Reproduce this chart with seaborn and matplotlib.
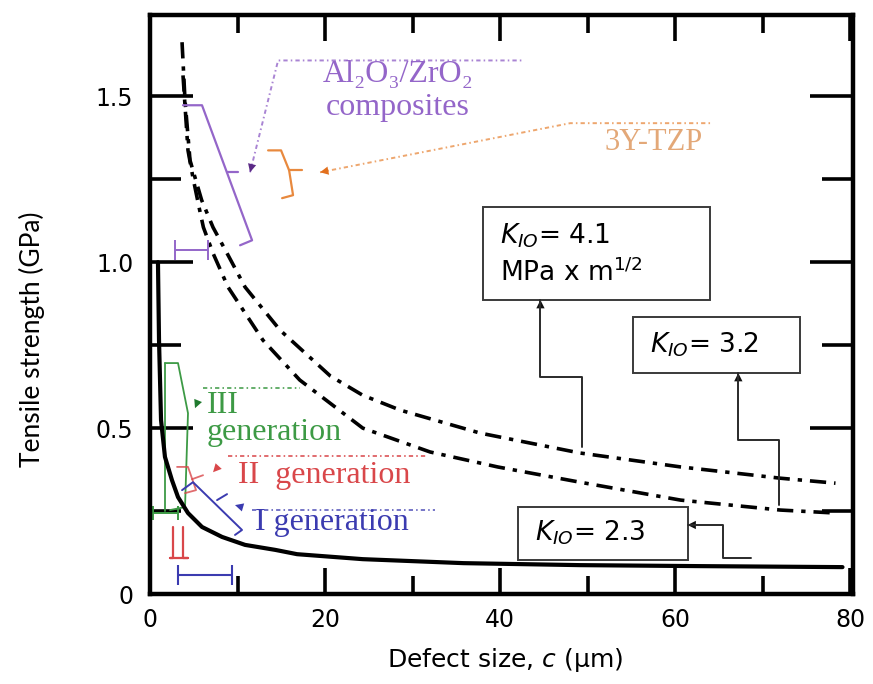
import numpy as np
import pandas as pd
import matplotlib
matplotlib.use('Agg')
import matplotlib.pyplot as plt
from matplotlib.patches import Rectangle
import seaborn as sns

# Strength curves: defect size c (um) vs tensile strength (GPa)
c_k23 = [0.91, 1.03, 1.26, 1.71, 2.51, 3.2, 4.34, 5.94, 8.23, 10.86, 14.3, 16.8,
         24.3, 35.8, 49.1, 62.9, 79.1]
s_k23 = [1.0, 0.765, 0.524, 0.413, 0.343, 0.292, 0.244, 0.202, 0.172, 0.148, 0.133,
         0.120, 0.105, 0.093, 0.087, 0.084, 0.081]

c_k32 = [3.77, 4.34, 4.9, 5.6, 6.1, 7.2, 8.91, 12.9, 17.1, 24.3, 32.0, 39.7,
         49.1, 60.6, 72.0, 78.3]
s_k32 = [1.563, 1.337, 1.256, 1.166, 1.105, 1.027, 0.925, 0.765, 0.645, 0.50,
         0.428, 0.383, 0.337, 0.283, 0.253, 0.244]

c_k41 = [3.66, 4.0, 4.57, 5.9, 7.2, 8.8, 10.86, 14.86, 20.6, 24.3, 28.6, 37.7,
         49.1, 60.6, 72.0, 78.3]
s_k41 = [1.663, 1.488, 1.307, 1.187, 1.105, 1.027, 0.925, 0.795, 0.657, 0.599,
         0.554, 0.485, 0.425, 0.383, 0.349, 0.334]

# axis ticks
x_major = [0, 20, 40, 60, 80]
x_labels = ['0', '20', '40', '60', '80']
x_minor = [10, 30, 50, 70]
y_major = [0, 0.5, 1.0, 1.5]
y_labels = ['0', '0.5', '1.0', '1.5']
y_minor = [0.25, 0.75, 1.25]

# material groups: bracket (strength range), leader line, arrow tip, error bar on c
pur_brk_x = [3.77, 5.94, 11.66, 10.29]
pur_brk_y = [1.473, 1.473, 1.066, 1.051]
pur_tick_x = [8.78, 10.1]
pur_tick_y = [1.271, 1.271]
pur_lead_x = [11.43, 14.63, 42.6]
pur_lead_y = [1.271, 1.608, 1.608]
pur_err = [4.75, 1.036, 1.89]

org_brk_x = [13.49, 14.97, 15.89, 16.34, 15.09]
org_brk_y = [1.337, 1.337, 1.277, 1.202, 1.193]
org_tick_x = [15.89, 17.37]
org_tick_y = [1.277, 1.277]
org_lead_x = [19.43, 48.0, 64.3]
org_lead_y = [1.271, 1.419, 1.419]

grn_brk_x = [1.71, 3.2, 4.34, 4.0, 2.29]
grn_brk_y = [0.696, 0.696, 0.545, 0.262, 0.253]
grn_side_x = [1.71, 1.71]
grn_side_y = [0.696, 0.250]
grn_lead_x = [6.06, 17.1]
grn_lead_y = [0.620, 0.620]
grn_tip = [5.14, 0.560]
grn_err = [1.77, 0.244, 1.43]

red_brk_x = [3.09, 4.34, 5.26, 4.0]
red_brk_y = [0.383, 0.383, 0.313, 0.304]
red_tick_x = [4.8, 6.06]
red_tick_y = [0.346, 0.358]
red_lead_x = [8.9, 31.7]
red_lead_y = [0.416, 0.416]
red_tip = [7.2, 0.367]
red_bar_x = [2.63, 2.63, 2.29, 4.34, 3.77, 3.77]
red_bar_y = [0.202, 0.108, 0.108, 0.108, 0.108, 0.202]

blu_brk_x = [3.66, 4.91, 10.51, 9.71]
blu_brk_y = [0.313, 0.337, 0.193, 0.178]
blu_tick_x = [7.66, 8.8]
blu_tick_y = [0.283, 0.301]
blu_lead_x = [11.66, 32.6]
blu_lead_y = [0.253, 0.253]
blu_tip = [9.71, 0.268]
blu_err = [6.29, 0.057, 3.09]

# K_IO boxes (x0, y0, x1, y1) and their connector paths
box41 = [38.06, 0.886, 64.0, 1.166]
box32 = [55.2, 0.666, 74.3, 0.834]
box23 = [42.06, 0.102, 61.4, 0.262]
path41_x = [49.4, 49.4, 44.6, 44.6]
path41_y = [0.443, 0.654, 0.654, 0.886]
path32_x = [71.8, 71.8, 67.2, 67.2]
path32_y = [0.268, 0.464, 0.464, 0.666]
path23_x = [68.6, 65.5, 65.5, 61.4]
path23_y = [0.108, 0.108, 0.208, 0.208]

sns.set_theme(style='ticks')
plt.rcParams['font.family'] = ['DejaVu Sans']
plt.rcParams['mathtext.fontset'] = 'custom'
plt.rcParams['mathtext.rm'] = 'DejaVu Sans'
plt.rcParams['mathtext.it'] = 'DejaVu Sans:italic'
plt.rcParams['text.color'] = 'black'
plt.rcParams['axes.labelcolor'] = 'black'
plt.rcParams['xtick.labelcolor'] = 'black'
plt.rcParams['ytick.labelcolor'] = 'black'

PURPLE = '#9466c9'
ORANGE = '#e8893e'
GREEN = '#3d9a45'
RED = '#d9474a'
BLUE = '#3b3bb0'
serif = ['Liberation Serif', 'DejaVu Serif']
dashdot = (0, (4.5, 2.2, 1.2, 2.2))
leader = (0, (2.2, 1.6, 0.8, 1.6))

fig = plt.figure(figsize=(8.73, 6.84), dpi=100)
ax = fig.add_axes([150 / 873, 90 / 684, 703 / 873, 579 / 684])

sns.lineplot(x=c_k23, y=s_k23, ax=ax, color='black', lw=3, sort=False, estimator=None, zorder=4)
sns.lineplot(x=c_k32, y=s_k32, ax=ax, color='black', lw=2.6, sort=False, estimator=None,
             linestyle=dashdot)
sns.lineplot(x=c_k41, y=s_k41, ax=ax, color='black', lw=2.6, sort=False, estimator=None,
             linestyle=dashdot)


def tip(xy, frm, color):
    ax.annotate('', xy=xy, xytext=frm,
                arrowprops=dict(arrowstyle='-|>', color=color, lw=0, shrinkA=0, shrinkB=0,
                                mutation_scale=15))


# Al2O3/ZrO2 composites
ax.plot(pur_brk_x, pur_brk_y, color=PURPLE, lw=1.6)
ax.plot(pur_tick_x, pur_tick_y, color=PURPLE, lw=1.6)
ax.plot(pur_lead_x, pur_lead_y, color=PURPLE, lw=1.4, linestyle=leader, alpha=0.8)
tip((pur_lead_x[0], pur_lead_y[0]), (pur_lead_x[1], pur_lead_y[1]), '#5b2a86')
ax.errorbar(pur_err[0], pur_err[1], xerr=pur_err[2], color=PURPLE, lw=1.4, capsize=7, capthick=1.4)
ax.text(28.3, 1.566, 'Al\u2082O\u2083/ZrO\u2082', family=serif, fontsize=23, color=PURPLE,
        ha='center', va='center')
ax.text(28.3, 1.465, 'composites', family=serif, fontsize=23, color=PURPLE,
        ha='center', va='center')

# 3Y-TZP
ax.plot(org_brk_x, org_brk_y, color=ORANGE, lw=1.6)
ax.plot(org_tick_x, org_tick_y, color=ORANGE, lw=1.6)
ax.plot(org_lead_x, org_lead_y, color=ORANGE, lw=1.4, linestyle=leader, alpha=0.75)
tip((org_lead_x[0], org_lead_y[0]), (org_lead_x[1], org_lead_y[1]), '#e2701e')
ax.text(57.5, 1.362, '3Y-TZP', family=serif, fontsize=22, color='#e3a878',
        ha='center', va='center')

# III generation
ax.plot(grn_brk_x, grn_brk_y, color=GREEN, lw=1.3)
ax.plot(grn_side_x, grn_side_y, color=GREEN, lw=1.3)
ax.plot(grn_lead_x, grn_lead_y, color=GREEN, lw=1.4, linestyle=leader, alpha=0.8)
tip(grn_tip, (grn_lead_x[0], grn_lead_y[0]), '#1f7a2e')
ax.errorbar(grn_err[0], grn_err[1], xerr=grn_err[2], color=GREEN, lw=1.4, capsize=5, capthick=1.4)
ax.text(6.5, 0.569, 'III', family=serif, fontsize=23, color=GREEN, ha='left', va='center')
ax.text(6.5, 0.486, 'generation', family=serif, fontsize=23, color=GREEN, ha='left', va='center')

# II generation
ax.plot(red_brk_x, red_brk_y, color=RED, lw=1.3, alpha=0.8)
ax.plot(red_tick_x, red_tick_y, color=RED, lw=1.3, alpha=0.8)
ax.plot(red_lead_x, red_lead_y, color=RED, lw=1.4, linestyle=leader, alpha=0.8)
tip(red_tip, (red_lead_x[0], red_lead_y[0]), RED)
ax.plot(red_bar_x, red_bar_y, color=RED, lw=1.6)
ax.text(10.06, 0.356, 'II  generation', family=serif, fontsize=23, color=RED,
        ha='left', va='center')

# I generation
ax.plot(blu_brk_x, blu_brk_y, color=BLUE, lw=1.4)
ax.plot(blu_tick_x, blu_tick_y, color=BLUE, lw=1.4)
ax.plot(blu_lead_x, blu_lead_y, color=BLUE, lw=1.4, linestyle=leader, alpha=0.7)
tip(blu_tip, (blu_lead_x[0], blu_lead_y[0]), BLUE)
ax.errorbar(blu_err[0], blu_err[1], xerr=blu_err[2], color=BLUE, lw=1.5, capsize=7, capthick=1.5)
ax.text(12.0, 0.215, 'I generation', family=serif, fontsize=23, color=BLUE,
        ha='left', va='center')

# K_IO boxes
for b in (box41, box32, box23):
    ax.add_patch(Rectangle((b[0], b[1]), b[2] - b[0], b[3] - b[1], facecolor='white',
                           edgecolor='#3a3a3a', lw=1.4, zorder=5))
for px, py in ((path41_x, path41_y), (path32_x, path32_y), (path23_x, path23_y)):
    ax.plot(px, py, color='#2a2a2a', lw=1.4, zorder=5)
    tip((px[-1], py[-1]), (px[-2], py[-2]), '#111111')

ax.text(40.0, 1.081, '$K_{IO}$= 4.1', fontsize=19, ha='left', va='center', zorder=6)
ax.text(40.0, 0.967, 'MPa x m$^{1/2}$', fontsize=19, ha='left', va='center', zorder=6)
ax.text(57.1, 0.750, '$K_{IO}$= 3.2', fontsize=19, ha='left', va='center', zorder=6)
ax.text(44.0, 0.184, '$K_{IO}$= 2.3', fontsize=19, ha='left', va='center', zorder=6)

# axes styling
ax.set_xlim(0, 80.3)
ax.set_ylim(0, 1.745)
ax.set_xticks(x_major)
ax.set_xticklabels(x_labels)
ax.set_xticks(x_minor, minor=True)
ax.set_yticks(y_major)
ax.set_yticklabels(y_labels)
ax.set_yticks(y_minor, minor=True)
for spine in ax.spines.values():
    spine.set_visible(True)
    spine.set_linewidth(3.2)
    spine.set_color('black')
ax.tick_params(axis='both', which='both', direction='in', top=True, right=True,
               width=2.6, color='black', labelcolor='black')
ax.tick_params(axis='x', which='major', length=19, pad=10, labelsize=17)
ax.tick_params(axis='x', which='minor', length=13)
ax.tick_params(axis='y', which='major', length=31, pad=12, labelsize=17)
ax.tick_params(axis='y', which='minor', length=22)

ax.set_xlabel('Defect size, $c$ (\u00b5m)', fontsize=18, color='black')
ax.xaxis.set_label_coords(0.505, -0.09)
ax.set_ylabel('Tensile strength (GPa)', family='Lato', fontsize=19, color='black')
ax.yaxis.set_label_coords(-0.15, 0.44)

fig.savefig('out.png', dpi=100, facecolor='white')
